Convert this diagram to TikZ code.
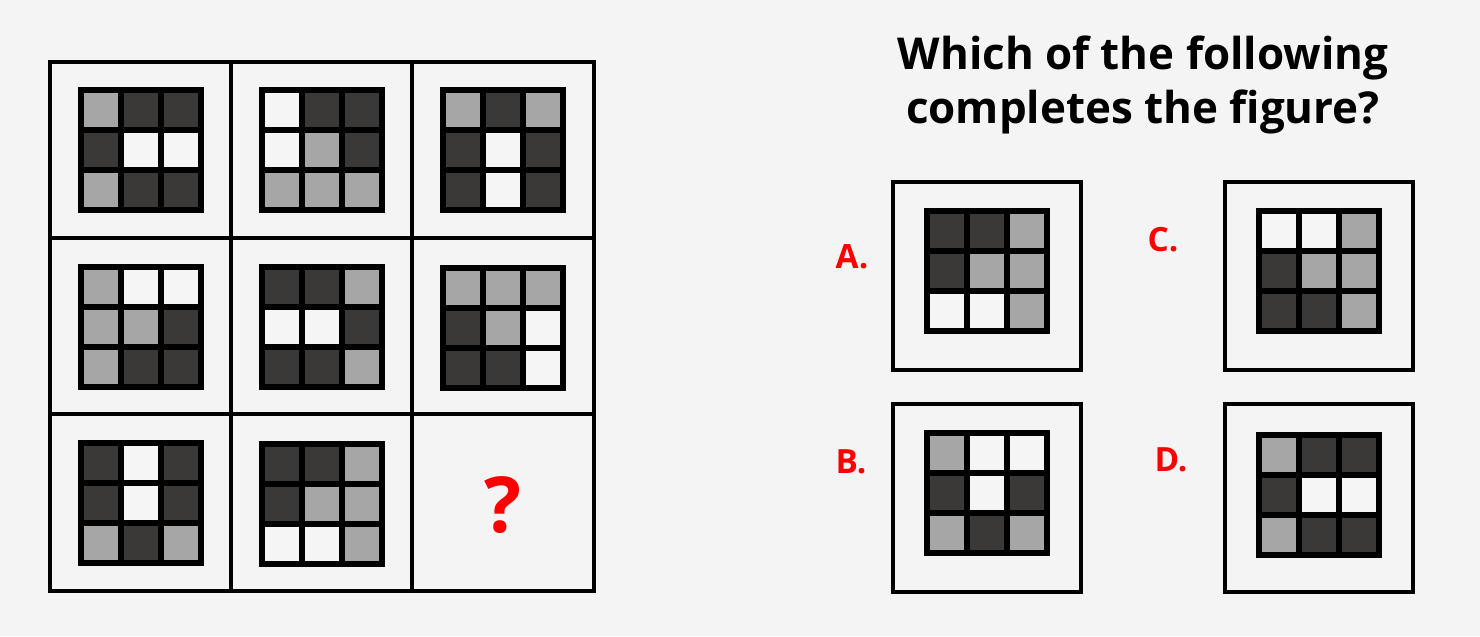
\documentclass[tikz,border=0pt]{standalone}
\usepackage{fontspec}
\setmainfont{Open Sans}
\definecolor{bg}{HTML}{F4F4F4}
\definecolor{dk}{HTML}{3A3938}
\definecolor{gy}{HTML}{A6A6A6}
\definecolor{wt}{HTML}{F5F5F5}
\tikzset{frame/.style={draw=black,line width=2.8pt},
  lbl/.style={text=red,font=\bfseries\fontsize{19}{19}\selectfont}}
% 3x3 tile block: centre x, centre y, colours row by row
\newcommand{\tiles}[3]{%
  \fill[black] (#1-63,#2-63) rectangle (#1+63,#2+63);
  \foreach \c [count=\i from 0] in {#3}{
    \pgfmathtruncatemacro\tr{int(\i/3)}\pgfmathtruncatemacro\tc{mod(\i,3)}
    \fill[\c] ({#1-57+\tc*40},{#2-57+\tr*40}) rectangle ++(34,34);}}

\begin{document}
\begin{tikzpicture}[x=0.02cm,y=-0.02cm]
\useasboundingbox[fill=bg](0,0)rectangle(1480,636);
% matrix
\draw[frame](50,62)rectangle(594,591);
\foreach \x in {231,412}\draw[frame](\x,62)--(\x,591);
\foreach \y in {238,414}\draw[frame](50,\y)--(594,\y);
\tiles{141}{150}{gy,dk,dk,dk,wt,wt,gy,dk,dk}
\tiles{322}{150}{wt,dk,dk,wt,gy,dk,gy,gy,gy}
\tiles{503}{150}{gy,dk,gy,dk,wt,dk,dk,wt,dk}
\tiles{141}{327}{gy,wt,wt,gy,gy,dk,gy,dk,dk}
\tiles{322}{327}{dk,dk,gy,wt,wt,dk,dk,dk,gy}
\tiles{503}{328}{gy,gy,gy,dk,gy,wt,dk,dk,wt}
\tiles{141}{503}{dk,wt,dk,dk,wt,dk,gy,dk,gy}
\tiles{322}{504}{dk,dk,gy,dk,gy,gy,wt,wt,gy}
\node[text=red,font=\bfseries\fontsize{44}{44}\selectfont](qm)at(503,505){?};
% question and answers
\node[font=\bfseries\fontsize{25}{31}\selectfont,align=center](title)at(1143,85){Which of the following\\completes the figure?};
\foreach \x/\y in {987/276,1319/276,987/498,1319/498}\draw[frame,line width=2.5pt](\x-94,\y-94)rectangle++(188,188);
\tiles{987}{271}{dk,dk,gy,dk,gy,gy,wt,wt,gy}
\tiles{987}{493}{gy,wt,wt,dk,wt,dk,gy,dk,gy}
\tiles{1319}{271}{wt,wt,gy,dk,gy,gy,dk,dk,gy}
\tiles{1319}{495}{gy,dk,dk,dk,wt,wt,gy,dk,dk}
\node[lbl](la)at(852,257){A.};
\node[lbl](lb)at(851,462){B.};
\node[lbl](lc)at(1163,240){C.};
\node[lbl](ld)at(1171,460){D.};
\end{tikzpicture}
\end{document}
